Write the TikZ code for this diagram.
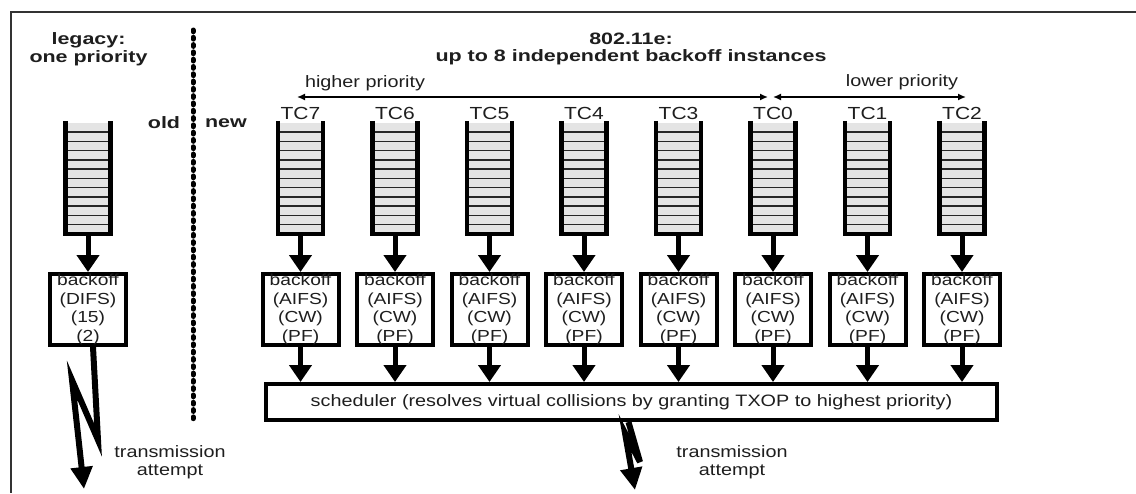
\documentclass[tikz,border=0pt]{standalone}
\usepackage{fontspec}
\setmainfont{Liberation Sans}[FakeStretch=1.2, BoldFeatures={FakeStretch=1.3}]
\usetikzlibrary{arrows.meta,calc}
\definecolor{qfill}{HTML}{E4E4E4}
\definecolor{ink}{HTML}{1E1E1E}
\definecolor{framecol}{HTML}{333333}

% draws the rungs and walls of a queue node
\newcommand\drawqueue[1]{%
  \foreach \k in {1,...,11}{%
    \draw[rung] ($(#1.north west)+(0,\k*9.25)$) -- ($(#1.north east)+(0,\k*9.25)$);}
  \draw[qwall] ($(#1.north west)+(0,-2)$) -- (#1.south west) -- (#1.south east) -- ($(#1.north east)+(0,-2)$);
}

\begin{document}
\begin{tikzpicture}[x=1pt,y=-1pt,
  txt/.style={font=\fontsize{16.5}{18.5}\selectfont, text=ink, inner sep=0pt, align=center},
  boldtxt/.style={font=\fontsize{16.5}{18.5}\selectfont\bfseries, text=ink, inner sep=0pt, align=center},
  tclabel/.style={font=\fontsize{17.5}{19}\selectfont, text=ink, inner sep=0pt},
  queue/.style={minimum width=45pt, minimum height=111pt, inner sep=0pt, fill=qfill},
  rung/.style={line width=1.6pt, black!85},
  qwall/.style={line width=4.5pt, black, line join=miter},
  boxnode/.style={draw=black, line width=4pt, minimum width=76pt, minimum height=71pt,
    inner sep=0pt, align=center, font=\fontsize{16}{18.6}\selectfont, text=ink},
  bigarrow/.style={line width=5pt, black, -{Triangle[width=22pt,length=17pt]}},
  bolt/.style={line width=6pt, black, line join=miter, -{Triangle[width=21pt,length=22pt]}},
  prio/.style={line width=1.5pt, black, {Latex[length=8pt,width=7pt]}-{Latex[length=8pt,width=7pt]}},
  dotline/.style={line width=5pt, black, line cap=round, dash pattern=on 1.8pt off 5.5pt},
]
\useasboundingbox (0,0) rectangle (1136,493);
\fill[white] (0,0) rectangle (1136,493);

% outer frame (top and left edges)
\draw[line width=2pt, framecol] (1136,12) -- (11,12) -- (11,493);

% separator between old and new
\draw[dotline] (193,30) -- (193,422);
\node[boldtxt] (old) at (164,123) {old};
\node[boldtxt] (new) at (226,123) {new};

% headings
\node[boldtxt] (legacy) at (88.5,49) {legacy:\\one priority};
\node[boldtxt] (title) at (631,49) {802.11e:\\[-1pt]up to 8 independent backoff instances};

% legacy station
\node[queue] (ql) at (88,178.5) {};
\drawqueue{ql}
\node[boxnode] (bl) at (88,309.5) {backoff\\(DIFS)\\(15)\\(2)};
\draw[bigarrow] (ql.south) -- (bl.north);
\coordinate (txl) at (84,489);
\draw[bolt] ([xshift=5pt]bl.south) -- (98,440) -- (72,380) -- (txl);
\node[txt] (attl) at (170,462) {transmission\\attempt};

% 802.11e traffic categories
\foreach \n/\x in {7/300.5,6/395,5/489.5,4/584,3/678.5,0/773,1/867.5,2/962}{
  \node[tclabel] (tc\n) at (\x,113) {TC\n};
  \node[queue] (q\n) at (\x,178.5) {};
  \drawqueue{q\n}
  \node[boxnode] (b\n) at (\x,309.5) {backoff\\(AIFS)\\(CW)\\(PF)};
  \draw[bigarrow] (q\n.south) -- (b\n.north);
}

% scheduler
\node[draw=black, line width=4pt, minimum width=731pt, minimum height=36pt, inner sep=0pt,
  font=\fontsize{16.5}{18.5}\selectfont, text=ink] (sch) at (631.5,402)
  {scheduler (resolves virtual collisions by granting TXOP to highest priority)};
\foreach \n in {7,6,5,4,3,0,1,2}{
  \draw[bigarrow] (b\n.south) -- (b\n.south |- sch.north);
}
\coordinate (txn) at (635,490);
\draw[bolt] ([xshift=-3pt]sch.south) -- (640,462) -- (625,433) -- (txn);
\node[txt] (attn) at (732,462) {transmission\\attempt};

% priority ordering
\coordinate (hpl) at (297,97);
\coordinate (hpr) at (768,97);
\coordinate (lpl) at (773,97);
\coordinate (lpr) at (966,97);
\draw[prio] (hpl) -- (hpr);
\draw[prio] (lpl) -- (lpr);
\node[txt] (hp) at (365,83) {higher priority};
\node[txt] (lp) at (902,82) {lower priority};
\end{tikzpicture}
\end{document}
